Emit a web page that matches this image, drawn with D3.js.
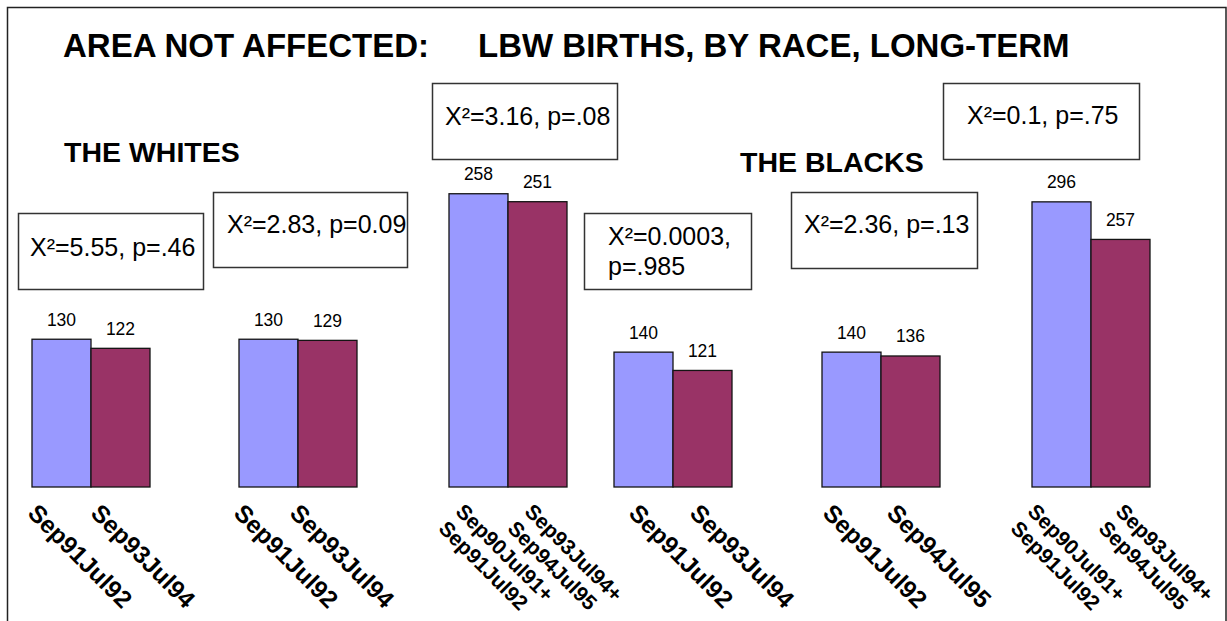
<!DOCTYPE html>
<html>
<head>
<meta charset="utf-8">
<script src="https://cdn.jsdelivr.net/npm/d3@7/dist/d3.min.js"></script>
<style>
  html, body { margin: 0; padding: 0; background: #fff; }
  svg { display: block; }
  text { font-family: "Liberation Sans", Arial, Helvetica, sans-serif; fill: #000; }
</style>
</head>
<body>
<svg id="chart" width="1227" height="621"></svg>
<script>
// LBW births in the area not affected, by race, comparing earlier and later periods
const titleLeft = "AREA NOT AFFECTED:";
const titleRight = "LBW BIRTHS, BY RACE, LONG-TERM";
const raceLabels = ["THE WHITES", "THE BLACKS"];
const panelRace = [0, 0, 0, 1, 1, 1];

// period labels (two-line labels are split on "\n")
const earlyPeriods = ["Sep91Jul92", "Sep91Jul92", "Sep90Jul91+\nSep91Jul92",
                      "Sep91Jul92", "Sep91Jul92", "Sep90Jul91+\nSep91Jul92"];
const latePeriods  = ["Sep93Jul94", "Sep93Jul94", "Sep93Jul94+\nSep94Jul95",
                      "Sep93Jul94", "Sep94Jul95", "Sep93Jul94+\nSep94Jul95"];

// LBW birth counts
const earlyCounts = [130, 130, 258, 140, 140, 296];
const lateCounts  = [122, 129, 251, 121, 136, 257];

// chi-square results per comparison
const chiSquare = ["X²=5.55, p=.46", "X²=2.83, p=0.09", "X²=3.16, p=.08",
                   "X²=0.0003,\np=.985", "X²=2.36, p=.13", "X²=0.1, p=.75"];

// ---- layout ----
const W = 1227, H = 621;
const baseY = 487;
const panelLeft = [32, 239, 449, 614, 822, 1032];
const barPairWidth = 118;
// nudges of each period label relative to its bar centre
const labelNudge = [[-35, -31], [-36, -39], [-24, -14], [-16, -14], [-30, -25], [-35, -6]];
const boxes = [
  { x: 18,  y: 213, w: 185, h: 76, tx: 12, ty: 43 },
  { x: 213, y: 192, w: 194, h: 75, tx: 14, ty: 41 },
  { x: 432, y: 83,  w: 185, h: 76, tx: 13, ty: 42 },
  { x: 584, y: 213, w: 167, h: 76, tx: 24, ty: 32 },
  { x: 791, y: 192, w: 186, h: 76, tx: 13, ty: 41 },
  { x: 943, y: 83,  w: 196, h: 76, tx: 24, ty: 41 }
];
const colors = { early: "#9999FF", late: "#993366" };

const svg = d3.select("#chart");

// outer frame
svg.append("rect")
  .attr("x", 7.5).attr("y", 7.5)
  .attr("width", 1218.5).attr("height", H)
  .attr("fill", "none").attr("stroke", "#222").attr("stroke-width", 1.5);

// titles
svg.append("text").attr("x", 63).attr("y", 57)
  .attr("font-size", 33).attr("font-weight", "bold").text(titleLeft);
svg.append("text").attr("x", 478).attr("y", 57)
  .attr("font-size", 33).attr("font-weight", "bold").text(titleRight);
svg.append("text").attr("x", 64).attr("y", 162)
  .attr("font-size", 28.5).attr("font-weight", "bold").text(raceLabels[0]);
svg.append("text").attr("x", 740).attr("y", 172)
  .attr("font-size", 28.5).attr("font-weight", "bold").text(raceLabels[1]);

// value scales: one per race
const yScales = [
  d3.scaleLinear().domain([0, 300]).range([baseY, baseY - 341]),
  d3.scaleLinear().domain([0, 300]).range([baseY, baseY - 289])
];
const xInner = d3.scaleBand().domain(["early", "late"]).range([0, barPairWidth]).padding(0);

const panels = earlyCounts.map((v, i) => ({
  i,
  race: panelRace[i],
  bars: [
    { key: "early", value: earlyCounts[i], label: earlyPeriods[i] },
    { key: "late",  value: lateCounts[i],  label: latePeriods[i] }
  ]
}));

const g = svg.selectAll("g.panel").data(panels).join("g")
  .attr("class", "panel")
  .attr("transform", d => `translate(${panelLeft[d.i]},0)`);

// bars
g.selectAll("rect.bar").data(d => d.bars.map(b => ({ ...b, race: d.race, i: d.i }))).join("rect")
  .attr("class", "bar")
  .attr("x", b => xInner(b.key))
  .attr("y", b => yScales[b.race](b.value))
  .attr("width", xInner.bandwidth())
  .attr("height", b => baseY - yScales[b.race](b.value))
  .attr("fill", b => colors[b.key])
  .attr("stroke", "#141414").attr("stroke-width", 1.3);

// value labels
g.selectAll("text.val").data(d => d.bars.map(b => ({ ...b, race: d.race }))).join("text")
  .attr("class", "val")
  .attr("x", b => xInner(b.key) + xInner.bandwidth() / 2)
  .attr("y", b => yScales[b.race](b.value) - 13.5)
  .attr("text-anchor", "middle")
  .attr("font-size", 17.5)
  .text(b => b.value);

// rotated period labels
g.selectAll("text.period").data(d => d.bars.map((b, j) => ({ ...b, i: d.i, j }))).join("text")
  .attr("class", "period")
  .attr("font-weight", "bold")
  .each(function (b) {
    const lines = b.label.split("\n");
    const size = lines.length > 1 ? 21 : 24.5;
    const cx = xInner(b.key) + xInner.bandwidth() / 2 + labelNudge[b.i][b.j];
    const cy = 502 + 0.707 * 0.716 * size;
    const t = d3.select(this)
      .attr("font-size", size)
      .attr("transform", `translate(${cx},${cy}) rotate(45)`);
    lines.forEach((ln, k) => {
      t.append("tspan").attr("x", 0).attr("dy", k === 0 ? 0 : size * 1.15).text(ln);
    });
  });

// chi-square boxes
const bx = svg.selectAll("g.stat").data(chiSquare.map((s, i) => ({ s, b: boxes[i] }))).join("g")
  .attr("class", "stat")
  .attr("transform", d => `translate(${d.b.x},${d.b.y})`);
bx.append("rect")
  .attr("x", 0.5).attr("y", 0.5)
  .attr("width", d => d.b.w).attr("height", d => d.b.h)
  .attr("fill", "#fff").attr("stroke", "#333").attr("stroke-width", 1.5);
bx.append("text")
  .attr("font-size", 25)
  .each(function (d) {
    const t = d3.select(this);
    d.s.split("\n").forEach((ln, k) => {
      t.append("tspan").attr("x", d.b.tx).attr("y", d.b.ty + k * 30).text(ln);
    });
  });
</script>
</body>
</html>
